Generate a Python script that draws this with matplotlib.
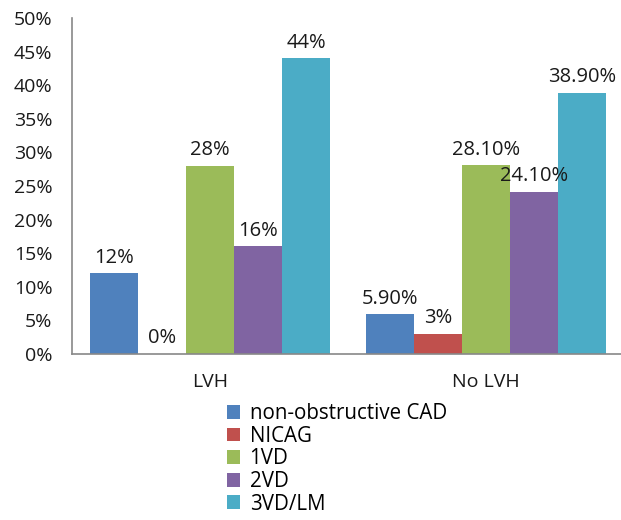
import matplotlib
matplotlib.use("Agg")
import matplotlib.pyplot as plt
import numpy as np

categories = ["LVH", "No LVH"]
series_names = ["non-obstructive CAD", "NICAG", "1VD", "2VD", "3VD/LM"]
values = {
    "non-obstructive CAD": [12.0, 5.9],
    "NICAG": [0.0, 3.0],
    "1VD": [28.0, 28.1],
    "2VD": [16.0, 24.1],
    "3VD/LM": [44.0, 38.9],
}
labels = {
    "non-obstructive CAD": ["12%", "5.90%"],
    "NICAG": ["0%", "3%"],
    "1VD": ["28%", "28.10%"],
    "2VD": ["16%", "24.10%"],
    "3VD/LM": ["44%", "38.90%"],
}
colors = ["#4F81BD", "#C0504D", "#9BBB59", "#8064A2", "#4BACC6"]
yticks = [0, 5, 10, 15, 20, 25, 30, 35, 40, 45, 50]

plt.rcParams['font.family'] = ['Open Sans', 'DejaVu Sans']
fig = plt.figure(figsize=(6.21, 5.2), dpi=100)
ax = fig.add_axes([72/621, 1-354/520, (624-72)/621, (354-18)/520])

x = np.arange(len(categories))
bw = 0.174
for i, name in enumerate(series_names):
    pos = x + (i - 2) * bw
    ax.bar(pos, values[name], width=bw, color=colors[i], label=name)
    for p, v, lab in zip(pos, values[name], labels[name]):
        ax.annotate(lab, (p, v), xytext=(0, 4), textcoords="offset points",
                    ha="center", va="bottom", fontsize=14.5, color="#1a1a1a")

ax.set_xlim(-0.5, 1.5)
ax.set_ylim(0, 50)
ax.set_yticks(yticks)
ax.set_yticklabels([f"{t}%" for t in yticks], fontsize=14, color="#1a1a1a")
ax.set_xticks(x)
ax.set_xticklabels(categories, fontsize=14, color="#1a1a1a")
ax.tick_params(axis="y", length=0, pad=14)
ax.tick_params(axis="x", length=0, pad=14)
for s in ["top", "right"]:
    ax.spines[s].set_visible(False)
for s in ["left", "bottom"]:
    ax.spines[s].set_color("#888888")
    ax.spines[s].set_linewidth(1.2)

leg = fig.legend(loc="upper left", bbox_to_anchor=(227/621, 1-403/520),
                 frameon=False, fontsize=14.8, handlelength=0.65, handleheight=0.65,
                 handletextpad=0.45, labelspacing=0.08, borderaxespad=0, borderpad=0)

fig.savefig("out.png", dpi=100)
